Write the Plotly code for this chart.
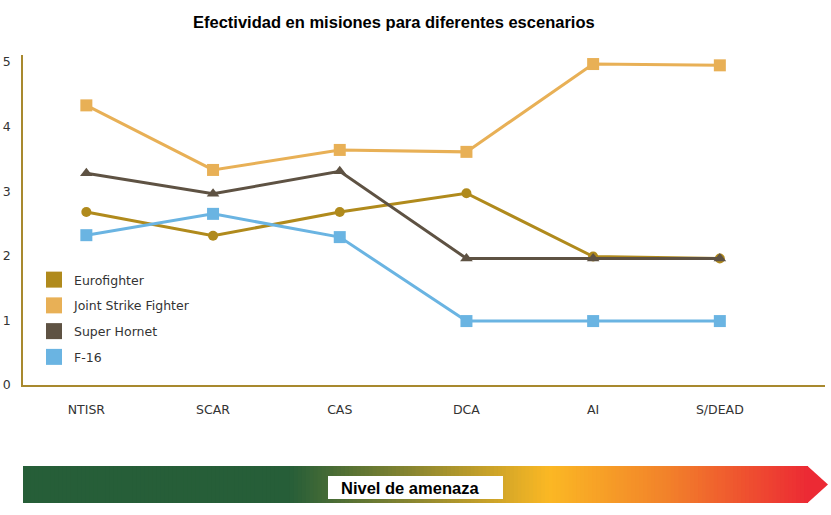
import plotly.graph_objects as go

categories = ["NTISR", "SCAR", "CAS", "DCA", "AI", "S/DEAD"]
series_names = ["Eurofighter", "Joint Strike Fighter", "Super Hornet", "F-16"]
eurofighter = [2.68, 2.31, 2.68, 2.97, 1.99, 1.96]
jsf = [4.33, 3.33, 3.64, 3.61, 4.97, 4.95]
super_hornet = [3.28, 2.96, 3.31, 1.96, 1.96, 1.96]
f16 = [2.32, 2.65, 2.29, 0.99, 0.99, 0.99]
y_ticks = [0, 1, 2, 3, 4, 5]

colors = ["#b08a1c", "#e8b056", "#5e5243", "#6ab4e2"]
symbols = ["circle", "square", "triangle-up", "square"]
values = [eurofighter, jsf, super_hornet, f16]

W, H = 831, 515
L, R, T, B = 23, 6, 55, 130
PW, PH = W - L - R, H - T - B

def px(x):
    return (x - L) / PW

def py(y):
    return (H - B - y) / PH

fig = go.Figure()
xi = list(range(len(categories)))
for name, vals, c, s in zip(series_names, values, colors, symbols):
    fig.add_trace(go.Scatter(
        x=xi, y=vals, mode="lines+markers", name=name, legendgroup=name,
        showlegend=False,
        line=dict(color=c, width=3),
        marker=dict(color=c, symbol=s, size={"circle": 10, "square": 12, "triangle-up": 11}[s]),
        cliponaxis=False,
    ))
for name, c in zip(series_names, colors):
    fig.add_trace(go.Scatter(
        x=[None], y=[None], mode="markers", name=name, legendgroup=name,
        marker=dict(color=c, symbol="square", size=17),
    ))

shapes = []
# gradient arrow
x0, x1, tip = 23, 808, 828
y0, y1 = 466, 503
stops = [(0.0, (38, 94, 56)), (0.34, (38, 94, 56)), (0.5, (140, 135, 48)),
         (0.67, (251, 184, 36)), (0.82, (242, 130, 42)), (1.0, (236, 42, 52))]

def col_at(t):
    for (a, ca), (b, cb) in zip(stops[:-1], stops[1:]):
        if a <= t <= b:
            f = (t - a) / (b - a) if b > a else 0
            return "rgb(%d,%d,%d)" % tuple(round(ca[i] + (cb[i] - ca[i]) * f) for i in range(3))
    return "rgb(%d,%d,%d)" % stops[-1][1]

N = 200
for i in range(N):
    xa = x0 + (x1 - x0) * i / N
    xb = min(x0 + (x1 - x0) * (i + 1) / N + 2.5, x1)
    c = col_at((i + 0.5) / N)
    shapes.append(dict(type="rect", xref="paper", yref="paper",
                       x0=px(xa), x1=px(xb), y0=py(y1), y1=py(y0),
                       fillcolor=c, line=dict(width=0), layer="above"))
shapes.append(dict(type="path", xref="paper", yref="paper",
                   path="M %f %f L %f %f L %f %f Z" % (px(x1 - 0.5), py(y0), px(tip), py((y0 + y1) / 2), px(x1 - 0.5), py(y1)),
                   fillcolor="rgb(236,42,52)", line=dict(width=0), layer="above"))
shapes.append(dict(type="rect", xref="paper", yref="paper",
                   x0=px(328), x1=px(503), y0=py(499), y1=py(476),
                   fillcolor="white", line=dict(width=0), layer="above"))

tick_font = dict(family="DejaVu Sans", size=12.5, color="#333333")

fig.update_layout(
    width=W, height=H,
    margin=dict(l=L, r=R, t=T, b=B, autoexpand=False),
    paper_bgcolor="white", plot_bgcolor="white",
    showlegend=True,
    legend=dict(x=px(34), y=py(265), xanchor="left", yanchor="top",
                font=dict(family="DejaVu Sans", size=12.5, color="#333333"),
                tracegroupgap=6.5, bgcolor="rgba(0,0,0,0)", itemclick=False),
    xaxis=dict(range=[-0.5, 5.83], tickvals=xi, ticktext=categories,
               showgrid=False, zeroline=False, showline=True,
               linecolor="#a8892e", linewidth=1.5, ticks="",
               ticklabelstandoff=12, tickfont=tick_font),
    yaxis=dict(range=[0, 5.11], tickvals=y_ticks, showgrid=False,
               zeroline=False, showline=True, linecolor="#a8892e", linewidth=1.5,
               ticks="", ticklabelstandoff=8, tickfont=tick_font),
    shapes=shapes,
    annotations=[
        dict(text="<b>Efectividad en misiones para diferentes escenarios</b>",
             xref="paper", yref="paper", x=px(394), y=py(22), showarrow=False,
             xanchor="center", yanchor="middle",
             font=dict(family="Liberation Sans", size=16.5, color="black")),
        dict(text="<b>Nivel de amenaza</b>", xref="paper", yref="paper",
             x=px(339), y=py(488), showarrow=False, xanchor="left", yanchor="middle",
             font=dict(family="Liberation Sans", size=16.5, color="black")),
    ],
)

fig.write_html("out.html", config={"displayModeBar": False},
               post_script="document.body.style.margin='0';document.body.style.overflow='hidden';")
